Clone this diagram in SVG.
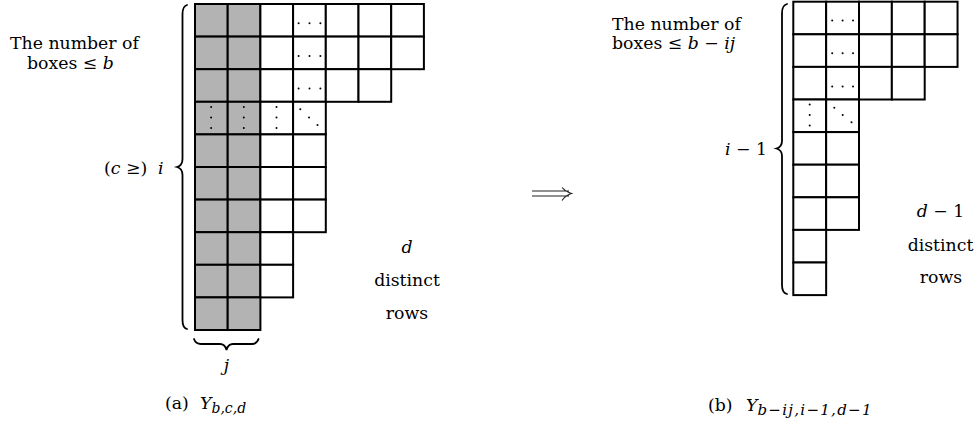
<svg xmlns="http://www.w3.org/2000/svg" width="978" height="424" viewBox="0 0 978 424">
<style>
.c{fill:#fff;stroke:#000;stroke-width:2}
.s{fill:#b3b3b3;stroke:#000;stroke-width:2}
.dot{fill:#000}
.br{fill:none;stroke:#000;stroke-width:1.8;stroke-linecap:round}
.ar{fill:none;stroke:#222;stroke-width:1.1}
text{font-family:"DejaVu Serif","Liberation Serif",serif;font-size:17.3px;fill:#000}
.m{font-style:italic}
.sub{font-size:14px;font-style:italic}
.sub2{font-size:15px;font-style:italic;letter-spacing:1.3px}
.mid{text-anchor:middle}
.end{text-anchor:end}
</style>
<rect width="978" height="424" fill="#fff"/>

<g id="tableau-a">
<g id="a-row1"><rect class="s" x="195" y="4" width="32.7" height="32.6"/><rect class="s" x="227.7" y="4" width="32.7" height="32.6"/><rect class="c" x="260.4" y="4" width="32.7" height="32.6"/><rect class="c" x="293.1" y="4" width="32.7" height="32.6"/><rect class="c" x="325.8" y="4" width="32.7" height="32.6"/><rect class="c" x="358.5" y="4" width="32.7" height="32.6"/><rect class="c" x="391.2" y="4" width="32.7" height="32.6"/></g>
<g id="a-row2"><rect class="s" x="195" y="36.6" width="32.7" height="32.6"/><rect class="s" x="227.7" y="36.6" width="32.7" height="32.6"/><rect class="c" x="260.4" y="36.6" width="32.7" height="32.6"/><rect class="c" x="293.1" y="36.6" width="32.7" height="32.6"/><rect class="c" x="325.8" y="36.6" width="32.7" height="32.6"/><rect class="c" x="358.5" y="36.6" width="32.7" height="32.6"/><rect class="c" x="391.2" y="36.6" width="32.7" height="32.6"/></g>
<g id="a-row3"><rect class="s" x="195" y="69.2" width="32.7" height="32.6"/><rect class="s" x="227.7" y="69.2" width="32.7" height="32.6"/><rect class="c" x="260.4" y="69.2" width="32.7" height="32.6"/><rect class="c" x="293.1" y="69.2" width="32.7" height="32.6"/><rect class="c" x="325.8" y="69.2" width="32.7" height="32.6"/><rect class="c" x="358.5" y="69.2" width="32.7" height="32.6"/></g>
<g id="a-row4"><rect class="s" x="195" y="101.8" width="32.7" height="32.6"/><rect class="s" x="227.7" y="101.8" width="32.7" height="32.6"/><rect class="c" x="260.4" y="101.8" width="32.7" height="32.6"/><rect class="c" x="293.1" y="101.8" width="32.7" height="32.6"/></g>
<g id="a-row5"><rect class="s" x="195" y="134.4" width="32.7" height="32.6"/><rect class="s" x="227.7" y="134.4" width="32.7" height="32.6"/><rect class="c" x="260.4" y="134.4" width="32.7" height="32.6"/><rect class="c" x="293.1" y="134.4" width="32.7" height="32.6"/></g>
<g id="a-row6"><rect class="s" x="195" y="167" width="32.7" height="32.6"/><rect class="s" x="227.7" y="167" width="32.7" height="32.6"/><rect class="c" x="260.4" y="167" width="32.7" height="32.6"/><rect class="c" x="293.1" y="167" width="32.7" height="32.6"/></g>
<g id="a-row7"><rect class="s" x="195" y="199.6" width="32.7" height="32.6"/><rect class="s" x="227.7" y="199.6" width="32.7" height="32.6"/><rect class="c" x="260.4" y="199.6" width="32.7" height="32.6"/><rect class="c" x="293.1" y="199.6" width="32.7" height="32.6"/></g>
<g id="a-row8"><rect class="s" x="195" y="232.2" width="32.7" height="32.6"/><rect class="s" x="227.7" y="232.2" width="32.7" height="32.6"/><rect class="c" x="260.4" y="232.2" width="32.7" height="32.6"/></g>
<g id="a-row9"><rect class="s" x="195" y="264.8" width="32.7" height="32.6"/><rect class="s" x="227.7" y="264.8" width="32.7" height="32.6"/><rect class="c" x="260.4" y="264.8" width="32.7" height="32.6"/></g>
<g id="a-row10"><rect class="s" x="195" y="297.4" width="32.7" height="32.6"/><rect class="s" x="227.7" y="297.4" width="32.7" height="32.6"/></g>
<g id="a-dots" class="dot">
<circle cx="298.6" cy="23.3" r="1"/><circle cx="309.5" cy="23.3" r="1"/><circle cx="320.4" cy="23.3" r="1"/>
<circle cx="298.6" cy="55.9" r="1"/><circle cx="309.5" cy="55.9" r="1"/><circle cx="320.4" cy="55.9" r="1"/>
<circle cx="298.6" cy="88.5" r="1"/><circle cx="309.5" cy="88.5" r="1"/><circle cx="320.4" cy="88.5" r="1"/>
<circle cx="211.1" cy="107" r="1"/><circle cx="211.1" cy="117.6" r="1"/><circle cx="211.1" cy="128" r="1"/>
<circle cx="243.8" cy="107" r="1"/><circle cx="243.8" cy="117.6" r="1"/><circle cx="243.8" cy="128" r="1"/>
<circle cx="276.5" cy="107" r="1"/><circle cx="276.5" cy="117.6" r="1"/><circle cx="276.5" cy="128" r="1"/>
<circle cx="300.3" cy="109.3" r="1"/><circle cx="309" cy="117.6" r="1"/><circle cx="317.5" cy="125" r="1"/>
</g>
</g>

<g id="labels-a">
<text x="10" y="49">The number of</text>
<text x="27" y="69">boxes ≤ <tspan class="m">b</tspan></text>
<text x="104" y="174">(<tspan class="m">c</tspan> ≥)<tspan class="m" x="158">i</tspan></text>
<text class="mid m" x="407" y="253">d</text>
<text class="mid" x="407" y="286">distinct</text>
<text class="mid" x="407" y="318.5">rows</text>
<text class="mid m" x="226.5" y="371">j</text>
<text x="165" y="409">(a)<tspan class="m" x="200">Y</tspan><tspan class="sub" dy="4">b,c,d</tspan></text>
</g>

<g id="tableau-b">
<g id="b-row1"><rect class="c" x="793.3" y="1.7" width="32.85" height="32.6"/><rect class="c" x="826.15" y="1.7" width="32.85" height="32.6"/><rect class="c" x="859" y="1.7" width="32.85" height="32.6"/><rect class="c" x="891.85" y="1.7" width="32.85" height="32.6"/><rect class="c" x="924.7" y="1.7" width="32.85" height="32.6"/></g>
<g id="b-row2"><rect class="c" x="793.3" y="34.3" width="32.85" height="32.6"/><rect class="c" x="826.15" y="34.3" width="32.85" height="32.6"/><rect class="c" x="859" y="34.3" width="32.85" height="32.6"/><rect class="c" x="891.85" y="34.3" width="32.85" height="32.6"/><rect class="c" x="924.7" y="34.3" width="32.85" height="32.6"/></g>
<g id="b-row3"><rect class="c" x="793.3" y="66.9" width="32.85" height="32.6"/><rect class="c" x="826.15" y="66.9" width="32.85" height="32.6"/><rect class="c" x="859" y="66.9" width="32.85" height="32.6"/><rect class="c" x="891.85" y="66.9" width="32.85" height="32.6"/></g>
<g id="b-row4"><rect class="c" x="793.3" y="99.5" width="32.85" height="32.6"/><rect class="c" x="826.15" y="99.5" width="32.85" height="32.6"/></g>
<g id="b-row5"><rect class="c" x="793.3" y="132.1" width="32.85" height="32.6"/><rect class="c" x="826.15" y="132.1" width="32.85" height="32.6"/></g>
<g id="b-row6"><rect class="c" x="793.3" y="164.7" width="32.85" height="32.6"/><rect class="c" x="826.15" y="164.7" width="32.85" height="32.6"/></g>
<g id="b-row7"><rect class="c" x="793.3" y="197.3" width="32.85" height="32.6"/><rect class="c" x="826.15" y="197.3" width="32.85" height="32.6"/></g>
<g id="b-row8"><rect class="c" x="793.3" y="229.9" width="32.85" height="32.6"/></g>
<g id="b-row9"><rect class="c" x="793.3" y="262.5" width="32.85" height="32.6"/></g>
<g id="b-dots" class="dot">
<circle cx="832.2" cy="20.5" r="1"/><circle cx="842.6" cy="20.5" r="1"/><circle cx="853" cy="20.5" r="1"/>
<circle cx="832.2" cy="53.3" r="1"/><circle cx="842.6" cy="53.3" r="1"/><circle cx="853" cy="53.3" r="1"/>
<circle cx="832.2" cy="86.5" r="1"/><circle cx="842.6" cy="86.5" r="1"/><circle cx="853" cy="86.5" r="1"/>
<circle cx="809.7" cy="104.5" r="1"/><circle cx="809.7" cy="115" r="1"/><circle cx="809.7" cy="125.5" r="1"/>
<circle cx="834.3" cy="107.7" r="1"/><circle cx="842.7" cy="115" r="1"/><circle cx="851.5" cy="122.3" r="1"/>
</g>
</g>

<g id="labels-b">
<text x="612" y="29.5">The number of</text>
<text x="612" y="48.5">boxes ≤ <tspan class="m">b</tspan> − <tspan class="m">ij</tspan></text>
<text class="end" x="767" y="155"><tspan class="m">i</tspan> − 1</text>
<text class="mid" x="940.5" y="217.3"><tspan class="m">d</tspan> − 1</text>
<text class="mid" x="940.5" y="250.7">distinct</text>
<text class="mid" x="941" y="283.3">rows</text>
<text x="708" y="411">(b)<tspan class="m" x="746">Y</tspan><tspan class="sub2" dy="4">b−ij,i−1,d−1</tspan></text>
</g>

<g id="connectors">
<path class="br" d="M187,5 C183.5,6 182.5,9 182.5,14 L182.5,159 C182.5,163 180.5,166 177,167 C180.5,168 182.5,171 182.5,175 L182.5,320 C182.5,325 183.5,328 187,329"/>
<path class="br" d="M194,339 C195,342 197,344 201,344 L220,344 C223,344 225.5,346 226.5,350 C227.5,346 230,344 233,344 L252,344 C256,344 257.5,342 258.5,339"/>
<path class="br" d="M787,4 C783,5 782,8 782,13 L782,141 C782,145 780,147.5 776.5,148.5 C780,149.5 782,152 782,156 L782,285 C782,290 783,293 787,294"/>
<path class="ar" d="M532,191 L569,191 M532,196 L569,196 M562,187.5 Q566,192 571.5,193.5 Q566,195 562,200.5"/>
</g>
</svg>
